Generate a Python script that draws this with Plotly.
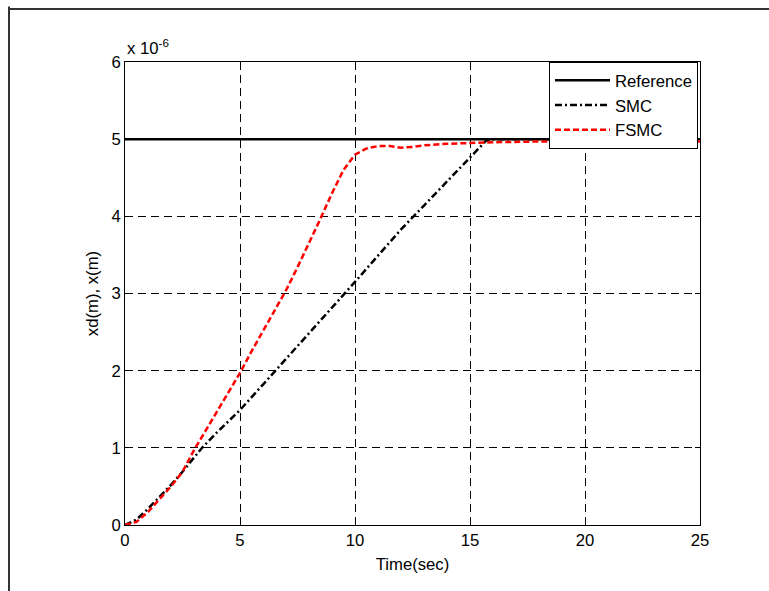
import plotly.graph_objects as go

# ---- data (positions in units of 1e-6 m) ----
t_ref = [0, 25]
x_ref = [5, 5]

t_smc = [0, 0.5, 1, 1.5, 2, 2.5, 3, 3.35, 4, 5, 6, 7, 8, 9, 10, 11, 12, 13, 14, 15, 15.7, 16, 18, 20, 25]
x_smc = [0, 0.07, 0.21, 0.36, 0.52, 0.69, 0.87, 1.0, 1.2, 1.49, 1.82, 2.15, 2.48, 2.82, 3.15, 3.49, 3.83, 4.14, 4.45, 4.75, 4.98, 5.0, 5.0, 5.0, 5.0]

t_fsmc = [0, 0.5, 1, 1.5, 2, 2.5, 3, 3.5, 4, 4.5, 5, 5.5, 6, 6.5, 7, 7.5, 8, 8.5, 9, 9.5, 10, 10.5, 11, 11.5, 12, 12.5, 13, 14, 15, 16, 18, 20, 25]
x_fsmc = [0, 0.04, 0.17, 0.33, 0.5, 0.69, 0.97, 1.22, 1.47, 1.72, 1.97, 2.25, 2.52, 2.78, 3.04, 3.34, 3.65, 3.97, 4.3, 4.6, 4.8, 4.88, 4.91, 4.91, 4.89, 4.9, 4.92, 4.94, 4.95, 4.96, 4.97, 4.97, 4.97]

x_ticks = [0, 5, 10, 15, 20, 25]
y_ticks = [0, 1, 2, 3, 4, 5, 6]

FONT = "Liberation Sans, Arial, sans-serif"
FS = 16.7

fig = go.Figure()
fig.add_trace(go.Scatter(x=t_ref, y=x_ref, mode="lines", name="Reference",
                         line=dict(color="black", width=2.5)))
fig.add_trace(go.Scatter(x=t_smc, y=x_smc, mode="lines", name="SMC",
                         line=dict(color="black", width=2.5, dash="7px,3px,2px,3px")))
fig.add_trace(go.Scatter(x=t_fsmc, y=x_fsmc, mode="lines", name="FSMC",
                         line=dict(color="red", width=2.5, dash="6px,3px")))

axis_common = dict(
    showline=True, linecolor="black", linewidth=1, mirror="ticks",
    ticks="inside", ticklen=5, tickcolor="black",
    showgrid=True, gridcolor="black", gridwidth=1, griddash="8px,5px",
    zeroline=False, tickfont=dict(family=FONT, size=FS, color="black"),
)

fig.update_xaxes(range=[0, 25], tickvals=x_ticks, ticktext=[str(v) for v in x_ticks],
                 title=dict(text="Time(sec)", font=dict(family=FONT, size=FS, color="black"), standoff=9),
                 **axis_common)
fig.update_yaxes(range=[0, 6], tickvals=y_ticks, ticktext=[str(v) for v in y_ticks],
                 title=dict(text="xd(m), x(m)", font=dict(family=FONT, size=FS, color="black"), standoff=8),
                 **axis_common)

fig.add_annotation(text="x 10<sup>-6</sup>", xref="paper", yref="paper", x=0, y=1,
                   xanchor="left", yanchor="bottom", showarrow=False, yshift=2,
                   font=dict(family=FONT, size=FS, color="black"))

# outer frame (left and top edges)
fig.add_shape(type="line", xref="paper", yref="paper",
              x0=(9 - 125) / 575, x1=(9 - 125) / 575, y0=1.12, y1=-0.2,
              line=dict(color="#333", width=2))
fig.add_shape(type="line", xref="paper", yref="paper",
              x0=(9 - 125) / 575, x1=1.2, y0=(525 - 9) / 463, y1=(525 - 9) / 463,
              line=dict(color="#333", width=2))

fig.update_layout(
    width=769, height=591,
    margin=dict(l=125, r=69, t=62, b=66),
    paper_bgcolor="white", plot_bgcolor="white",
    showlegend=True,
    legend=dict(x=0.9965, y=1, xanchor="right", yanchor="top",
                bgcolor="white", bordercolor="black", borderwidth=1,
                font=dict(family=FONT, size=FS, color="black"),
                itemwidth=55, tracegroupgap=0),
    font=dict(family=FONT, size=FS, color="black"),
)

fig.write_html("out.html")
